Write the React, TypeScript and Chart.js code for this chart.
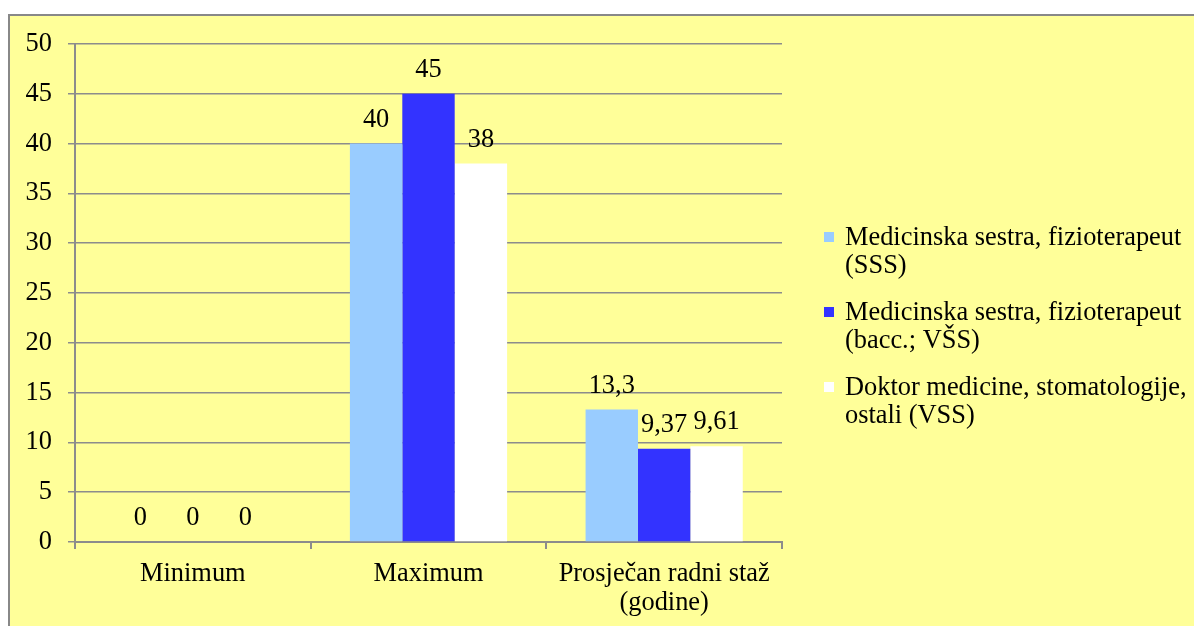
import React, { useEffect, useRef } from "react";
import { Chart, registerables } from "chart.js";

Chart.register(...registerables);

const categories: (string | string[])[] = ["Minimum", "Maximum", ["Prosječan radni staž", "(godine)"]];
const seriesNames: string[][] = [
  ["Medicinska sestra, fizioterapeut", "(SSS)"],
  ["Medicinska sestra, fizioterapeut", "(bacc.; VŠS)"],
  ["Doktor medicine, stomatologije,", "ostali (VSS)"],
];
const seriesSSS = [0, 40, 13.3];
const seriesVSSbacc = [0, 45, 9.37];
const seriesVSS = [0, 38, 9.61];
const seriesColors = ["#99CCFF", "#3333FF", "#FFFFFF"];

const FONT = '"Liberation Serif", "DejaVu Serif", serif';
const FS = 26.4;

const valueLabels = {
  id: "valueLabels",
  afterDatasetsDraw(chart: any) {
    const ctx = chart.ctx;
    ctx.save();
    ctx.font = `${FS}px ${FONT}`;
    ctx.fillStyle = "#000";
    ctx.textAlign = "center";
    ctx.textBaseline = "alphabetic";
    chart.data.datasets.forEach((ds: any, i: number) => {
      const meta = chart.getDatasetMeta(i);
      meta.data.forEach((el: any, j: number) => {
        const txt = String(ds.data[j]).replace(".", ",");
        ctx.fillText(txt, el.x, el.y - 17);
      });
    });
    ctx.restore();
  },
};

const sideLegend = {
  id: "sideLegend",
  afterDraw(chart: any) {
    const ctx = chart.ctx;
    ctx.save();
    ctx.font = `${FS}px ${FONT}`;
    ctx.textAlign = "left";
    ctx.textBaseline = "alphabetic";
    const x0 = chart.chartArea.right + 42;
    let base = 229;
    seriesNames.forEach((lines, i) => {
      ctx.fillStyle = seriesColors[i];
      ctx.fillRect(x0, base - 13, 10, 10);
      ctx.fillStyle = "#000";
      lines.forEach((ln, k) => {
        ctx.fillText(ln, x0 + 21, base + k * 28);
      });
      base += 75;
    });
    ctx.restore();
  },
};

export default function App() {
  const ref = useRef<HTMLCanvasElement | null>(null);
  useEffect(() => {
    document.body.style.overflow = "hidden";
    let chart: Chart | null = null;
    let cancelled = false;
    const build = () => {
      if (cancelled || !ref.current) return;
      chart = new Chart(ref.current, {
        type: "bar",
        data: {
          labels: categories as any,
          datasets: [seriesSSS, seriesVSSbacc, seriesVSS].map((d, i) => ({
            label: seriesNames[i].join(" "),
            data: d,
            backgroundColor: seriesColors[i],
            borderWidth: 0,
            categoryPercentage: 0.667,
            barPercentage: 1,
          })),
        },
        options: {
          animation: false,
          responsive: false,
          maintainAspectRatio: false,
          layout: { padding: { left: 0, top: 28, right: 420, bottom: 0 } },
          plugins: { legend: { display: false }, tooltip: { enabled: false } },
          scales: {
            x: {
              grid: { drawOnChartArea: false, color: "#8C8C8C", tickLength: 7, lineWidth: 2 },
              border: { color: "#8C8C8C", width: 2 },
              ticks: { color: "#000", font: { family: FONT, size: FS, lineHeight: 1.1 }, padding: 11, maxRotation: 0 },
              afterFit: (s: any) => { s.height = 84; s.paddingLeft = 0; s.paddingRight = 0; },
            },
            y: {
              min: 0,
              max: 50,
              ticks: { stepSize: 5, color: "#000", font: { family: FONT, size: FS }, padding: 16 },
              grid: { color: "#8C8C8C", tickLength: 7, lineWidth: 1.5 },
              border: { color: "#8C8C8C", width: 2 },
              afterFit: (s: any) => { s.width = 65; s.paddingTop = 0; s.paddingBottom = 0; },
            },
          },
        },
        plugins: [valueLabels, sideLegend],
      });
    };
    const fonts: any = (document as any).fonts;
    if (fonts && fonts.load) {
      Promise.all([fonts.load(`${FS}px "Liberation Serif"`), fonts.load(`${FS}px "DejaVu Serif"`)])
        .catch(() => null)
        .then(build);
    } else build();
    return () => {
      cancelled = true;
      if (chart) chart.destroy();
    };
  }, []);
  return (
    <div
      style={{
        marginTop: 6,
        width: 1220,
        height: 640,
        border: "2px solid #888888",
        background: "#FFFF99",
        boxSizing: "border-box",
      }}
    >
      <canvas ref={ref} width={1192} height={610} style={{ display: "block" }} />
    </div>
  );
}
